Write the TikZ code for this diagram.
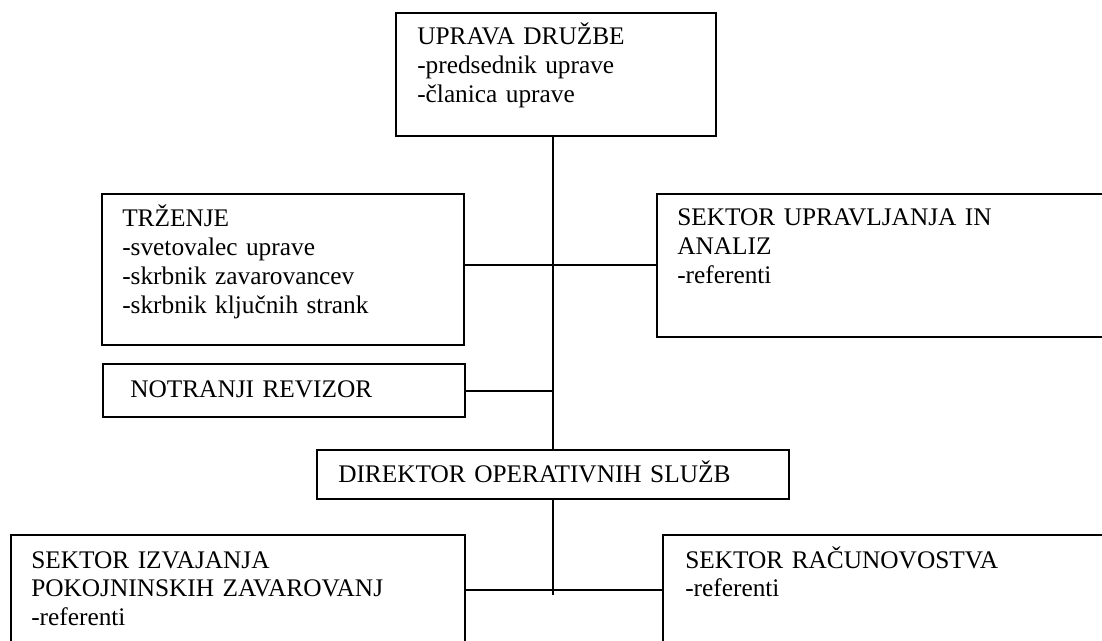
\documentclass[tikz,border=0pt]{standalone}
\usepackage{fontspec}
\setmainfont{Liberation Serif}

\begin{document}
\begin{tikzpicture}
		[x=0.75pt,y=-0.75pt,
		%Styles
		org box/.style 2 args={draw,rectangle,line width=1.5pt,anchor=north west,inner sep=0pt,
			minimum width=#1*0.75pt,minimum height=#2*0.75pt},
		box text/.style={anchor=base west,align=left,inner sep=0pt,text width=14cm,
			font=\fontsize{19}{21.6}\selectfont},
		link/.style={line width=1.5pt}
		]
		
		%Canvas
		\useasboundingbox (0,0) rectangle (1102,641);
		\clip (0,0) rectangle (1102,641);
		
		%The boxes
		\node[org box={320}{123}] (uprava) at (395,12) {};
		\node[org box={362}{151}] (trzenje) at (101,193) {};
		\node[org box={470}{143}] (upravljanje) at (656,193) {};
		\node[org box={362}{53}] (revizor) at (102,363) {};
		\node[org box={472}{49}] (direktor) at (316,449) {};
		\node[org box={454}{110}] (izvajanje) at (10,534) {};
		\node[org box={470}{110}] (racunovodstvo) at (662,534) {};
		
		%The texts
		\node[box text] (uprava text) at (417,45)
			{UPRAVA DRUŽBE\\-predsednik uprave\\-članica uprave};
		\node[box text] (trzenje text) at (122,227)
			{TRŽENJE\\-svetovalec uprave\\-skrbnik zavarovancev\\-skrbnik ključnih strank};
		\node[box text] (upravljanje text) at (677,226)
			{SEKTOR UPRAVLJANJA IN\\ANALIZ\\-referenti};
		\node[box text] (revizor text) at (130,397) {NOTRANJI REVIZOR};
		\node[box text] (direktor text) at (338,482) {DIREKTOR OPERATIVNIH SLUŽB};
		\node[box text] (izvajanje text) at (31,568)
			{SEKTOR IZVAJANJA\\POKOJNINSKIH ZAVAROVANJ\\-referenti};
		\node[box text] (racunovodstvo text) at (685,568)
			{SEKTOR RAČUNOVOSTVA\\-referenti};
		
		%The connectors
		\draw[link] (uprava.south -| direktor.north) -- (direktor.north);
		\draw[link] (upravljanje.west) -- (upravljanje.west -| trzenje.east);
		\draw[link] (revizor.east) -- (revizor.east -| direktor.north);
		\draw[link] (direktor.south) -- ++(0,95) coordinate (stub);
		\draw[link] (izvajanje.east) -- (racunovodstvo.west);
	\end{tikzpicture}
\end{document}
